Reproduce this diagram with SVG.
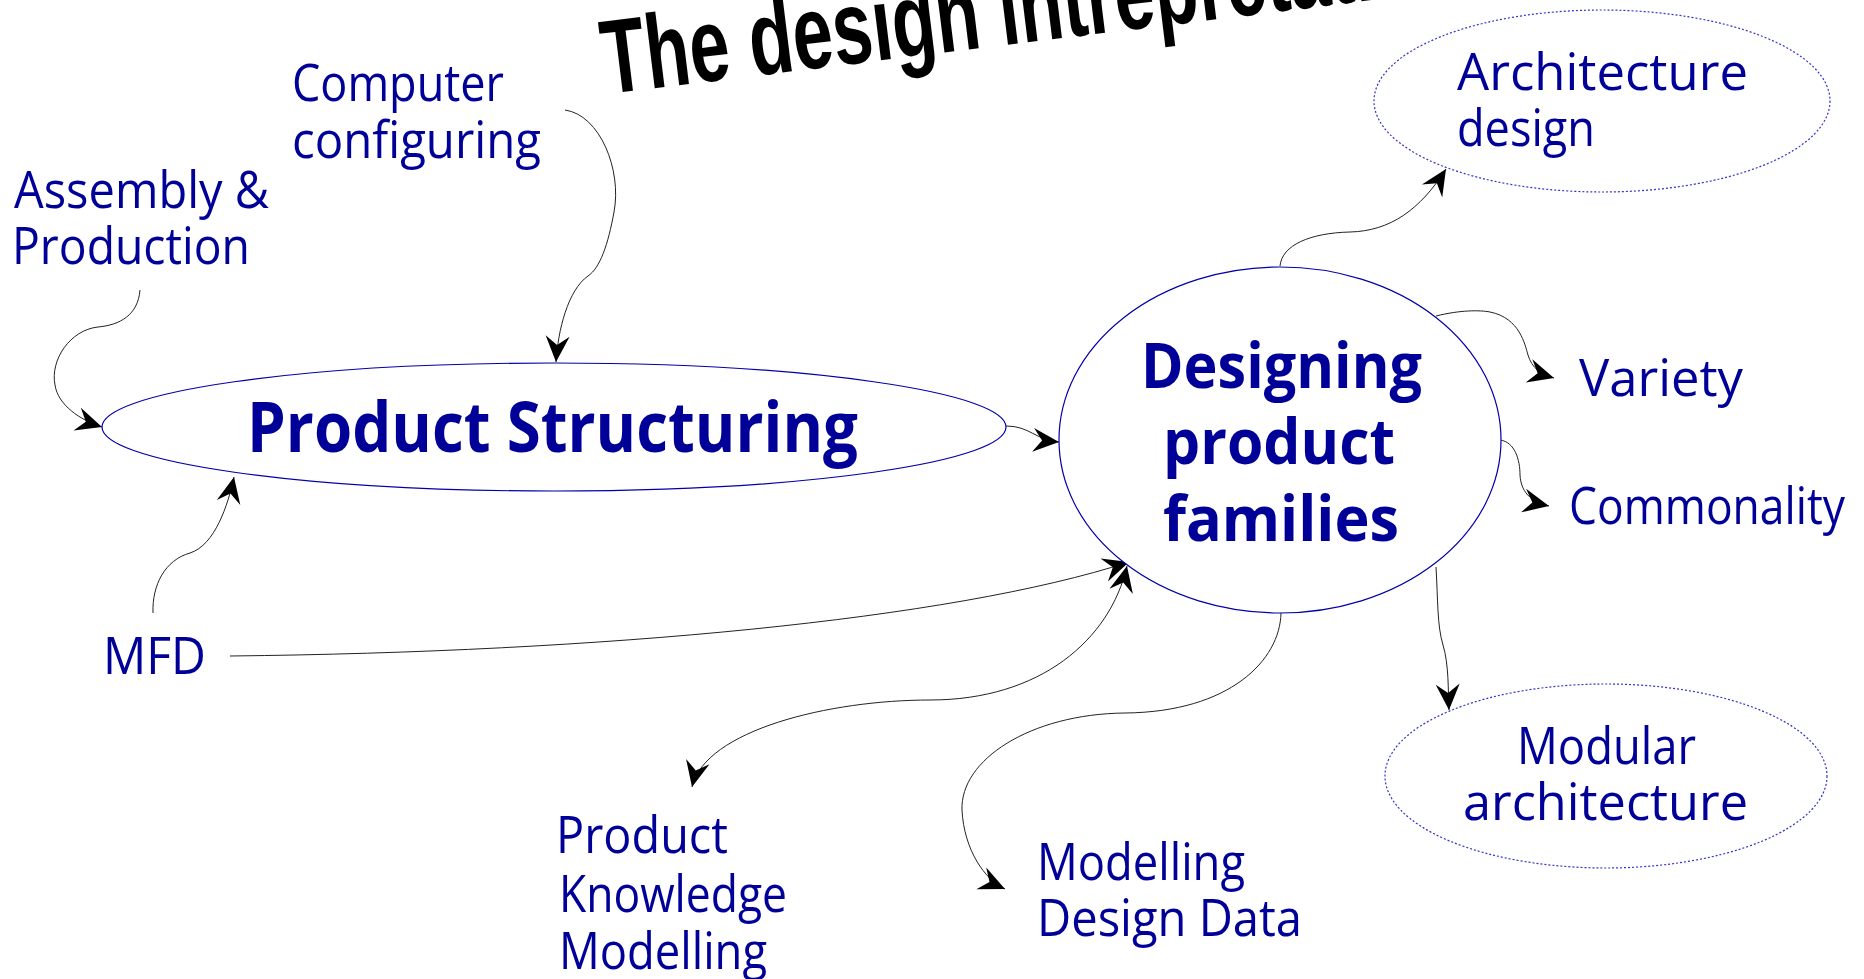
<svg xmlns="http://www.w3.org/2000/svg" width="1864" height="979" viewBox="0 0 1864 979">
<style>
.lbl{font-family:"Open Sans","DejaVu Sans",sans-serif;font-size:52px;fill:#000099}
.big{font-family:"Open Sans","DejaVu Sans",sans-serif;font-weight:bold;fill:#000099}
.solid{fill:#ffffff;stroke:#0000aa;stroke-width:1.2}
.dotted{fill:none;stroke:#3333cc;stroke-width:1.2;stroke-dasharray:2 2}
.con{fill:none;stroke:#222;stroke-width:1}
.title{font-family:"Liberation Sans",Arial,sans-serif;font-weight:bold;font-size:100px;fill:#000}
</style>
<defs>
<marker id="ah" viewBox="-28 -13 30 26" refX="0" refY="0" markerWidth="30" markerHeight="26" markerUnits="userSpaceOnUse" orient="auto-start-reverse">
<path d="M0,0 L-26,-12 L-17,0 L-26,12 Z" fill="#000"/>
</marker>
</defs>
<rect width="1864" height="979" fill="#fff"/>
<g id="title">
<text class="title" transform="translate(606,94) rotate(-7) scale(0.72,1.05)">The design intrepretation</text>
</g>
<g id="connectors">
<path class="con" marker-end="url(#ah)" d="M565,110 C600,115 622,170 614,212 C608,245 600,268 588,276 C568,290 558,330 556,362"/>
<path class="con" marker-end="url(#ah)" d="M140,290 C138,315 120,325 98,327 C70,330 50,360 55,385 C58,405 80,420 102,427"/>
<path class="con" marker-end="url(#ah)" d="M153,613 C152,585 165,560 190,553 C215,545 228,505 234,477"/>
<path class="con" marker-end="url(#ah)" d="M230,656 C600,652 950,620 1129,562"/>
<path class="con" marker-start="url(#ah)" marker-end="url(#ah)" d="M1127,566 C1110,640 1040,700 930,700 C830,700 705,730 692,787"/>
<path class="con" marker-end="url(#ah)" d="M1281,613 C1280,660 1230,712 1125,713 C1030,714 960,760 962,810 C964,850 985,880 1005,889"/>
<path class="con" marker-end="url(#ah)" d="M1280,266 C1282,245 1310,233 1350,232 C1390,231 1420,210 1446,169"/>
<path class="con" marker-end="url(#ah)" d="M1436,316 C1460,310 1480,310 1490,312 C1520,318 1525,345 1528,355 C1532,368 1540,374 1554,378"/>
<path class="con" marker-end="url(#ah)" d="M1500,440 C1515,442 1520,460 1520,475 C1521,495 1535,503 1549,506"/>
<path class="con" marker-end="url(#ah)" d="M1436,567 C1438,600 1437,625 1443,645 C1449,665 1448,690 1449,710"/>
<path class="con" marker-end="url(#ah)" d="M1006,426 C1030,426 1035,440 1059,442"/>
</g>
<g id="product-structuring">
<ellipse class="solid" cx="554" cy="427" rx="452" ry="64"/>
<text class="big" font-size="70" x="247" y="452" textLength="611" lengthAdjust="spacingAndGlyphs">Product Structuring</text>
</g>
<g id="designing-product-families">
<ellipse class="solid" cx="1280" cy="440" rx="221" ry="173"/>
<text class="big" font-size="63" x="1141" y="388" textLength="281" lengthAdjust="spacingAndGlyphs">Designing</text>
<text class="big" font-size="63" x="1163" y="464" textLength="232" lengthAdjust="spacingAndGlyphs">product</text>
<text class="big" font-size="63" x="1163" y="541" textLength="236" lengthAdjust="spacingAndGlyphs">families</text>
</g>
<g id="architecture-design">
<ellipse class="dotted" cx="1602" cy="101" rx="228" ry="91"/>
<text class="lbl" x="1457" y="90" textLength="291" lengthAdjust="spacingAndGlyphs">Architecture</text>
<text class="lbl" x="1457" y="146" textLength="138" lengthAdjust="spacingAndGlyphs">design</text>
</g>
<g id="modular-architecture">
<ellipse class="dotted" cx="1606" cy="776" rx="221" ry="92"/>
<text class="lbl" x="1517" y="764" textLength="179" lengthAdjust="spacingAndGlyphs">Modular</text>
<text class="lbl" x="1463" y="820" textLength="285" lengthAdjust="spacingAndGlyphs">architecture</text>
</g>
<g id="variety">
<text class="lbl" x="1579" y="396" textLength="164" lengthAdjust="spacingAndGlyphs">Variety</text>
</g>
<g id="commonality">
<text class="lbl" x="1569" y="524" textLength="276" lengthAdjust="spacingAndGlyphs">Commonality</text>
</g>
<g id="computer-configuring">
<text class="lbl" x="292" y="101" textLength="212" lengthAdjust="spacingAndGlyphs">Computer</text>
<text class="lbl" x="292" y="158" textLength="249" lengthAdjust="spacingAndGlyphs">configuring</text>
</g>
<g id="assembly-production">
<text class="lbl" x="14" y="208" textLength="255" lengthAdjust="spacingAndGlyphs">Assembly &amp;</text>
<text class="lbl" x="12" y="264" textLength="238" lengthAdjust="spacingAndGlyphs">Production</text>
</g>
<g id="mfd">
<text class="lbl" x="103" y="674" textLength="103" lengthAdjust="spacingAndGlyphs">MFD</text>
</g>
<g id="product-knowledge-modelling">
<text class="lbl" x="556" y="853" textLength="172" lengthAdjust="spacingAndGlyphs">Product</text>
<text class="lbl" x="559" y="912" textLength="228" lengthAdjust="spacingAndGlyphs">Knowledge</text>
<text class="lbl" x="559" y="969" textLength="208" lengthAdjust="spacingAndGlyphs">Modelling</text>
</g>
<g id="modelling-design-data">
<text class="lbl" x="1037" y="880" textLength="208" lengthAdjust="spacingAndGlyphs">Modelling</text>
<text class="lbl" x="1037" y="936" textLength="265" lengthAdjust="spacingAndGlyphs">Design Data</text>
</g>
</svg>
